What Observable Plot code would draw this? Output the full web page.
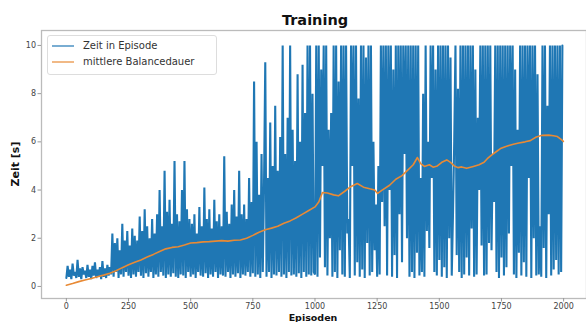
<!DOCTYPE html>
<html><head><meta charset="utf-8">
<script src="https://cdn.jsdelivr.net/npm/d3@7"></script>
<script src="https://cdn.jsdelivr.net/npm/@observablehq/plot@0.6"></script>
<style>
body{margin:0;width:586px;height:322px;overflow:hidden;background:#fff;font-family:"DejaVu Sans",sans-serif;}
#wrap{position:relative;width:586px;height:322px;overflow:hidden;}
#wrap svg{position:absolute;left:0;top:0;}
.lbl{position:absolute;white-space:nowrap;color:#111;font-weight:bold;}
#title{left:315px;top:20px;transform:translate(-50%,-50%);font-size:14.5px;}
#ylab{left:15px;top:164px;transform:translate(-50%,-50%) rotate(-90deg);font-size:11px;}
#xlab{left:313px;top:317.5px;transform:translate(-50%,-50%);font-size:9.5px;line-height:10px;}
#legend{position:absolute;left:47px;top:35px;width:168px;height:38px;border:1px solid #ddd;border-radius:3px;background:rgba(255,255,255,0.85);font-size:10px;color:#333;}
.row{position:absolute;left:0;height:14px;line-height:14px;}
.row .sw{position:absolute;left:4px;top:6px;width:22px;height:1.5px;opacity:0.6;}
.row .tx{position:absolute;left:35px;top:0;white-space:nowrap;}
</style></head><body><div id="wrap"></div>
<script>
// Zeit in Episode, one value every EPISODE_STEP episodes (episode = index * step)
const EPISODE_STEP = 5;
const zeitInEpisode = [
  // 0 - 175
  0.35,0.85,0.4,0.7,0.3,0.95,0.45,0.6,0.35,1.1,0.4,0.75,0.3,0.8,0.5,0.65,0.35,0.9,0.4,0.7,
  0.3,0.85,0.45,1.0,0.35,0.7,0.4,0.8,0.3,1.05,0.4,0.75,0.35,0.9,0.45,0.8,
  // 180 - 495
  0.5,2.2,0.4,1.8,0.6,2.0,0.35,1.5,0.5,2.6,
  0.4,1.9,0.6,2.3,0.45,1.7,0.35,2.4,0.5,2.1,
  0.4,1.9,0.6,2.9,0.45,2.3,0.35,3.2,0.55,2.5,
  0.4,2.0,0.6,2.8,0.35,2.2,0.5,3.0,0.4,4.0,
  0.6,2.5,0.45,4.8,0.35,3.1,0.5,3.6,0.4,2.6,
  0.55,5.2,0.4,3.0,0.35,2.7,0.5,4.0,0.45,5.2,
  0.35,3.2,0.6,2.8,
  // 500 - 795
  0.4,2.6,0.5,3.0,0.35,2.2,0.6,3.3,0.45,2.5,
  0.4,4.1,0.55,2.8,0.35,3.2,0.5,2.4,0.4,3.6,
  0.6,2.7,0.35,3.0,0.5,2.5,0.45,5.4,0.4,3.1,
  0.6,2.6,0.35,3.4,0.5,4.0,0.4,2.9,0.55,4.8,
  0.35,3.0,0.5,3.4,0.45,2.8,0.6,4.5,0.4,3.5,
  0.55,8.5,0.4,6.0,0.5,3.8,0.35,5.5,0.6,4.2,
  // 800 - 995
  9.3,0.4,4.5,0.6,6.8,0.35,5.0,0.5,7.5,0.45,
  4.8,0.6,6.2,0.4,10,0.5,5.5,0.35,7.0,0.6,
  10,0.45,6.5,0.5,5.2,0.4,8.8,0.55,6.0,0.35,
  9.2,0.6,7.2,0.4,10,0.5,10,0.45,8.0,0.6,
  // 1000 - 1995
  0.5,10,0.4,10,1.2,9.0,5.0,10,0.8,10,0.45,6.5,2.0,7.2,0.4,10,0.6,10,0.35,8.5,
  1.5,10,0.5,10,0.4,10,2.2,2.8,0.35,10,5.0,10,0.45,10,1.0,7.8,0.4,10,0.7,10,
  0.35,9.5,1.8,10,0.45,10,0.6,6.0,1.5,3.4,0.4,5.0,0.5,10,3.5,10,2.5,10,0.45,10,
  4.0,10,0.4,9.0,1.3,10,0.35,10,3.0,10,1.0,10,5.5,10,2.0,10,0.4,10,0.6,10,
  0.35,10,1.4,10,0.45,4.5,0.6,8.0,0.4,10,2.3,6.0,1.6,10,4.5,10,0.6,9.0,0.45,10,
  1.1,10,0.4,10,0.8,10,0.35,10,2.0,9.5,0.45,3.0,6.0,10,1.3,8.2,0.6,10,0.35,10,
  0.5,10,1.2,10,0.45,10,2.4,10,0.4,9.0,0.5,7.0,4.0,10,1.7,10,0.45,10,0.5,10,
  1.8,10,1.5,5.5,3.5,10,0.6,10,0.35,10,1.2,10,0.45,10,0.8,10,2.2,10,5.0,10,
  0.5,9.0,0.35,6.5,1.4,10,0.45,10,1.0,10,0.4,10,4.5,10,0.35,10,2.0,10,0.45,8.8,
  0.5,2.5,0.4,10,1.6,10,0.35,7.5,3.0,10,0.45,10,0.7,10,1.1,10,0.5,10,0.6,10
];

// mittlere Balancedauer
const meanEpisodes = [0,25,50,75,100,125,150,175,200,225,250,275,300,325,350,375,400,425,450,475,
  500,525,550,575,600,625,650,675,700,725,750,775,800,825,850,875,900,925,950,975,
  1000,1015,1030,1050,1075,1094,1120,1145,1170,1195,1220,1240,1252,1270,1300,1325,1350,1375,1395,1412,
  1425,1440,1460,1475,1492,1510,1530,1545,1560,1575,1590,1610,1637,1660,1680,1693,1710,1730,1746,1765,
  1780,1798,1820,1845,1866,1890,1914,1940,1959,1975,1990,1999];
const meanValues = [0.05,0.12,0.2,0.27,0.33,0.4,0.47,0.55,0.65,0.78,0.9,1.0,1.1,1.22,1.33,1.45,1.56,1.62,1.65,1.72,
  1.8,1.82,1.85,1.86,1.88,1.9,1.88,1.92,1.93,2.0,2.12,2.25,2.35,2.42,2.5,2.62,2.72,2.85,3.0,3.15,
  3.3,3.5,3.9,3.88,3.8,3.76,3.95,4.15,4.27,4.12,4.05,4.0,3.86,4.0,4.2,4.45,4.6,4.85,5.05,5.35,
  5.1,4.98,5.05,4.95,5.0,5.15,5.25,5.15,5.0,4.93,4.96,4.9,4.98,5.05,5.15,5.3,5.45,5.6,5.72,5.8,
  5.85,5.9,5.95,6.0,6.05,6.2,6.27,6.28,6.25,6.22,6.1,6.02];

const xTicks = [0,250,500,750,1000,1250,1500,1750,2000];
const yTicks = [0,2,4,6,8,10];
const seriesNames = ["Zeit in Episode","mittlere Balancedauer"];
const seriesColors = ["#1f77b4","#e88a35"];

const blue = zeitInEpisode.map((v,i)=>({episode:i*EPISODE_STEP, zeit:v}));
const orange = meanEpisodes.map((e,i)=>({episode:e, zeit:meanValues[i]}));

const chart = Plot.plot({
  width:586, height:322,
  marginLeft:41, marginRight:0, marginTop:30, marginBottom:24,
  x:{domain:[-100,2092]},
  y:{domain:[-0.5,10.62]},
  style:{fontFamily:"DejaVu Sans, sans-serif", fontSize:"8px", color:"#444", background:"transparent"},
  marks:[
    Plot.lineY(blue,{x:"episode",y:"zeit",stroke:seriesColors[0],strokeWidth:2.1,strokeLinejoin:"miter",strokeMiterlimit:1.5}),
    Plot.lineY(orange,{x:"episode",y:"zeit",stroke:seriesColors[1],strokeWidth:1.6}),
    Plot.frame({stroke:"#bbb",strokeWidth:1.3}),
    Plot.axisX({ticks:xTicks, tickSize:3.5, tickPadding:1.5, tickFormat:d=>String(d), label:null, stroke:"#999"}),
    Plot.axisY({ticks:yTicks, tickSize:3.5, tickPadding:2, tickFormat:d=>String(d), label:null, stroke:"#999"})
  ]
});
const wrap = document.getElementById("wrap");
wrap.appendChild(chart);

function addLabel(id, text){
  const d = document.createElement("div");
  d.id = id; d.className = "lbl"; d.textContent = text; wrap.appendChild(d);
}
addLabel("title","Training");
addLabel("ylab","Zeit [s]");
addLabel("xlab","Episoden");

const lg = document.createElement("div");
lg.id = "legend";
seriesNames.forEach((n,i)=>{
  const r = document.createElement("div");
  r.className = "row"; r.style.top = (3 + i*16) + "px";
  const sw = document.createElement("div"); sw.className = "sw"; sw.style.background = seriesColors[i];
  const tx = document.createElement("div"); tx.className = "tx"; tx.textContent = n;
  r.appendChild(sw); r.appendChild(tx); lg.appendChild(r);
});
wrap.appendChild(lg);
</script>
</body></html>
